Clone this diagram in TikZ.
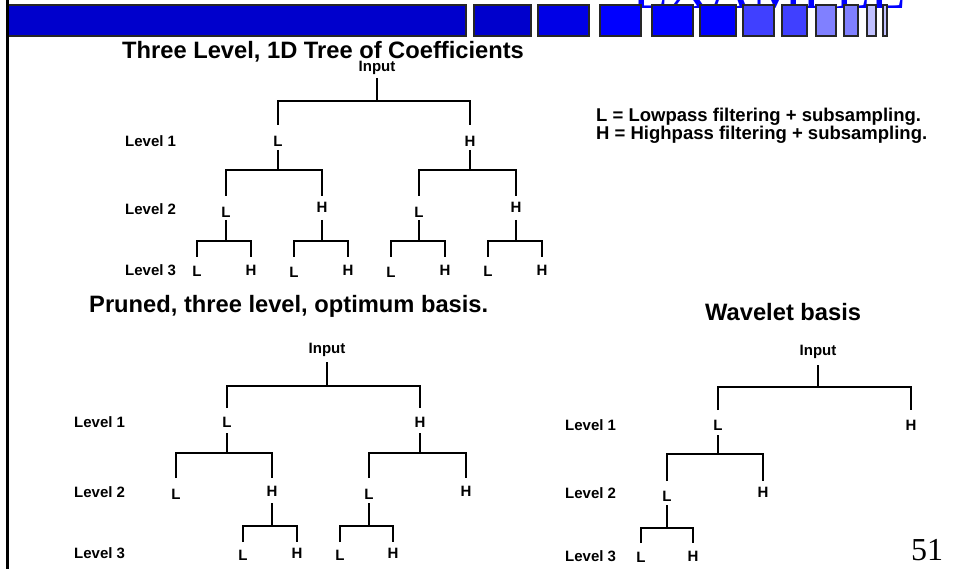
\documentclass[tikz,border=0pt]{standalone}
\usepackage{fontspec}
\setmainfont{Liberation Sans}
\newfontfamily\serifface{Liberation Serif}
\newcommand{\fork}[6]{%
  \draw[conn] (#1.center |- 0,#4) -- (#1.center |- 0,#5);
  \draw[conn] (#2.center |- 0,#6) -- (#2.center |- 0,#5) -- (#3.center |- 0,#5) -- (#3.center |- 0,#6);
}
\begin{document}
\begin{tikzpicture}[x=1pt,y=-1pt,
  lab/.style={font=\bfseries\fontsize{15}{18}\selectfont, inner sep=0pt},
  lev/.style={font=\bfseries\fontsize{15}{18}\selectfont, inner sep=0pt, anchor=west},
  ttl/.style={font=\bfseries\fontsize{23.7}{28}\selectfont, inner sep=0pt, anchor=west},
  leg/.style={font=\bfseries\fontsize{18.5}{22}\selectfont, inner sep=0pt, anchor=west},
  conn/.style={line width=1.4pt, black},
  bannerbox/.style={draw=black!85, line width=1.1pt}]
\useasboundingbox (0,0) rectangle (958,569);
\fill[white] (0,0) rectangle (958,569);
% banner
\begin{scope}
\clip (0,0) rectangle (958,569);
\node[font=\serifface\fontsize{58}{60}\selectfont, text=blue, inner sep=0pt, anchor=base west] (ex) at (632,9) {EXAMPLE};
\end{scope}
\definecolor{bA}{HTML}{0000CC}
\definecolor{bB}{HTML}{0000E6}
\definecolor{bC}{HTML}{0000FF}
\definecolor{bD}{HTML}{4040FF}
\definecolor{bE}{HTML}{8080FF}
\definecolor{bF}{HTML}{C0C0FF}
\foreach \xa/\xb/\cc in {8/466/bA,474/531/bA,538/589/bB,600/641/bC,652/693/bC,700/736/bC,743/774/bD,782/807/bD,816/836/bE,844/858/bE,867/876/bF,883/887/bF}
  \filldraw[bannerbox, fill=\cc] (\xa,5) rectangle (\xb,36);
\draw[line width=2.6pt] (7.5,0) -- (7.5,569);

% top tree
\node[ttl] (t1) at (122,52) {Three Level, 1D Tree of Coefficients};
\node[lab] (a0) at (377,68) {Input};
\node[lab] (a1) at (278,141) {L};
\node[lab] (a2) at (470,141) {H};
\node[lab] (a11) at (226,212) {L};
\node[lab] (a12) at (322,207) {H};
\node[lab] (a21) at (419,212) {L};
\node[lab] (a22) at (516,207) {H};
\node[lab] (a111) at (197,271) {L};
\node[lab] (a112) at (251,270) {H};
\node[lab] (a121) at (294,272) {L};
\node[lab] (a122) at (348,270) {H};
\node[lab] (a211) at (391,272) {L};
\node[lab] (a212) at (445,270) {H};
\node[lab] (a221) at (488,271) {L};
\node[lab] (a222) at (542,270) {H};
\fork{a0}{a1}{a2}{78}{101}{125}
\fork{a1}{a11}{a12}{150}{170}{196}
\fork{a2}{a21}{a22}{150}{170}{196}
\fork{a11}{a111}{a112}{220}{241}{257}
\fork{a12}{a121}{a122}{220}{241}{257}
\fork{a21}{a211}{a212}{220}{241}{257}
\fork{a22}{a221}{a222}{220}{241}{257}
\node[lev] (la1) at (125,141) {Level 1};
\node[lev] (la2) at (125,209) {Level 2};
\node[lev] (la3) at (125,270) {Level 3};

% legend
\node[leg] (k1) at (596,117) {L = Lowpass filtering + subsampling.};
\node[leg] (k2) at (596,135) {H = Highpass filtering + subsampling.};

% bottom left tree
\node[ttl] (t2) at (89,306) {Pruned, three level, optimum basis.};
\node[lab] (b0) at (327,350) {Input};
\node[lab] (b1) at (227,422) {L};
\node[lab] (b2) at (420,422) {H};
\node[lab] (b11) at (176,494) {L};
\node[lab] (b12) at (272,491) {H};
\node[lab] (b21) at (369,494) {L};
\node[lab] (b22) at (466,491) {H};
\node[lab] (b121) at (243,555) {L};
\node[lab] (b122) at (297,553) {H};
\node[lab] (b211) at (340,555) {L};
\node[lab] (b212) at (393,553) {H};
\fork{b0}{b1}{b2}{362}{386}{408}
\fork{b1}{b11}{b12}{433}{453}{478}
\fork{b2}{b21}{b22}{433}{453}{478}
\fork{b12}{b121}{b122}{503}{526}{542}
\fork{b21}{b211}{b212}{503}{526}{542}
\node[lev] (lb1) at (74,422) {Level 1};
\node[lev] (lb2) at (74,492) {Level 2};
\node[lev] (lb3) at (74,553) {Level 3};

% bottom right tree
\node[ttl] (t3) at (705,312) {Wavelet basis};
\node[lab] (c0) at (818,352) {Input};
\node[lab] (c1) at (718,425) {L};
\node[lab] (c2) at (911,425) {H};
\node[lab] (c11) at (667,496) {L};
\node[lab] (c12) at (763,492) {H};
\node[lab] (c111) at (641,557) {L};
\node[lab] (c112) at (693,556) {H};
\fork{c0}{c1}{c2}{365}{387}{410}
\fork{c1}{c11}{c12}{435}{454}{481}
\fork{c11}{c111}{c112}{505}{528}{543}
\node[lev] (lc1) at (565,425) {Level 1};
\node[lev] (lc2) at (565,493) {Level 2};
\node[lev] (lc3) at (565,556) {Level 3};

\node[font=\serifface\fontsize{32}{34}\selectfont, inner sep=0pt] (pg) at (927,550) {51};
\end{tikzpicture}
\end{document}
